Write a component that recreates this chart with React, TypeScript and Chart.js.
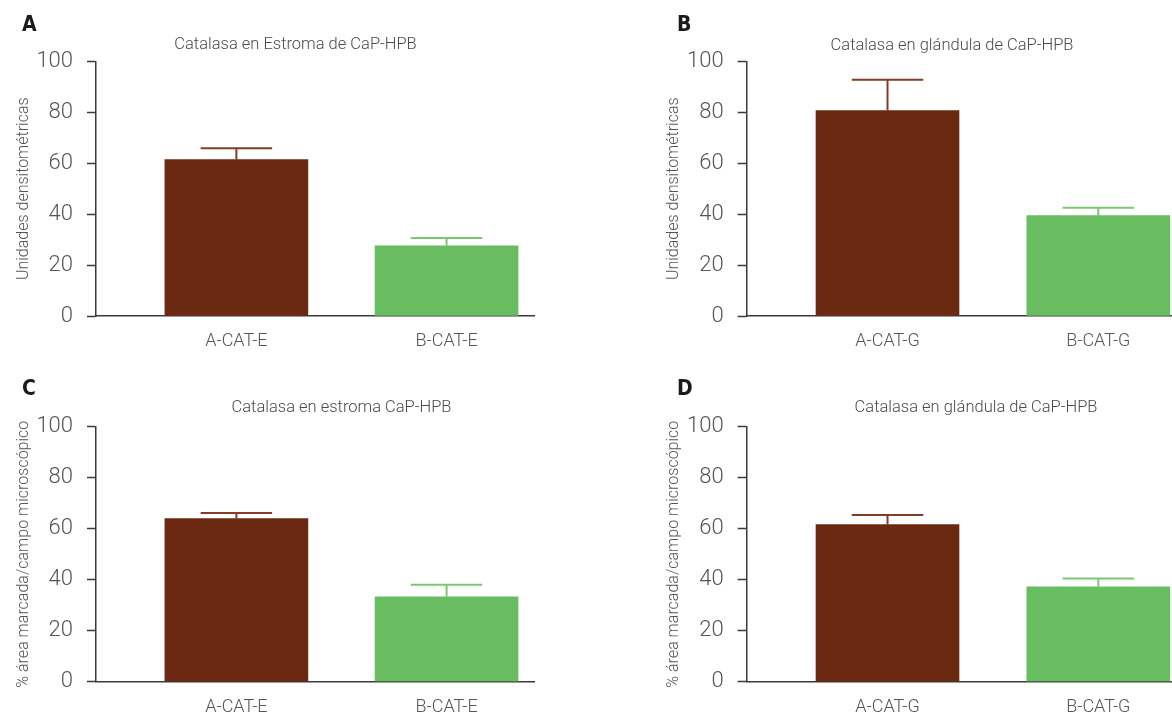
import React, { useEffect, useRef } from 'react';
import { Chart, registerables } from 'chart.js';

Chart.register(...registerables);

// ---- Data ----
const categoriesE = ['A-CAT-E', 'B-CAT-E'];
const categoriesG = ['A-CAT-G', 'B-CAT-G'];

const valuesA = [61.4, 27.6];
const errorsA = [4.5, 3.0];

const valuesB = [80.7, 39.4];
const errorsB = [12.1, 3.1];

const valuesC = [64.0, 33.3];
const errorsC = [2.2, 4.7];

const valuesD = [61.6, 37.2];
const errorsD = [3.8, 3.3];

const yTickValues = [0, 20, 40, 60, 80, 100];

const titles = [
  'Catalasa en Estroma de CaP-HPB',
  'Catalasa en glándula de CaP-HPB',
  'Catalasa en estroma CaP-HPB',
  'Catalasa en glándula de CaP-HPB',
];
const yTitles = [
  'Unidades densitométricas',
  'Unidades densitométricas',
  '% área marcada/campo microscópico',
  '% área marcada/campo microscópico',
];
const panelLetters = ['A', 'B', 'C', 'D'];

// ---- Styles ----
const barColors = ['#6b2912', '#67bd5f'];
const errorColors = ['#853b25', '#7bc871'];
const FONT = "Roboto, 'DejaVu Sans Condensed', sans-serif";
const AXIS_COLOR = '#3a3a3a';

const errorBarPlugin = {
  id: 'errorBars',
  afterDatasetsDraw(chart: any) {
    const ctx = chart.ctx;
    const yScale = chart.scales.y;
    chart.data.datasets.forEach((ds: any, di: number) => {
      const meta = chart.getDatasetMeta(di);
      const errs: number[] = ds.errors || [];
      meta.data.forEach((bar: any, i: number) => {
        const v = ds.data[i].y;
        const e = errs[i];
        if (e == null) return;
        const yTop = yScale.getPixelForValue(v + e);
        const yBar = yScale.getPixelForValue(v);
        const half = bar.width / 4;
        ctx.save();
        ctx.strokeStyle = ds.errorColors[i];
        ctx.lineWidth = 2;
        ctx.beginPath();
        ctx.moveTo(bar.x, yBar);
        ctx.lineTo(bar.x, yTop);
        ctx.moveTo(bar.x - half, yTop);
        ctx.lineTo(bar.x + half, yTop);
        ctx.stroke();
        ctx.restore();
      });
    });
  },
};

type PanelProps = {
  left: number;
  top: number;
  width: number;
  height: number;
  yWidth: number;
  xHeight: number;
  rightSpace: number;
  titlePad: { top: number; bottom: number };
  title: string;
  yTitle: string;
  categories: string[];
  values: number[];
  errors: number[];
};

function Panel(p: PanelProps) {
  const ref = useRef<HTMLCanvasElement | null>(null);
  useEffect(() => {
    if (!ref.current) return;
    const chart = new Chart(ref.current, {
      type: 'bar',
      data: {
        datasets: [
          {
            data: p.values.map((v, i) => ({ x: i + 1, y: v })),
            backgroundColor: barColors,
            borderWidth: 0,
            barThickness: 143,
            errors: p.errors,
            errorColors: errorColors,
          } as any,
        ],
      },
      options: {
        animation: false,
        responsive: false,
        devicePixelRatio: 1,
        layout: { padding: 0 },
        plugins: {
          legend: { display: false },
          tooltip: { enabled: false },
          title: {
            display: true,
            text: p.title,
            color: '#4a4a4a',
            font: { family: FONT, size: 16.5, weight: '300' as any },
            padding: p.titlePad,
          },
        },
        scales: {
          x: {
            type: 'linear',
            offset: false,
            min: 0.332,
            max: 2.416,
            afterBuildTicks: (s: any) => {
              s.ticks = p.categories.map((_, i) => ({ value: i + 1 }));
            },
            afterFit: (s: any) => {
              s.height = p.xHeight;
            },
            grid: { display: true, drawOnChartArea: false, drawTicks: false, offset: false },
            border: { display: true, color: AXIS_COLOR, width: 1.5 },
            ticks: {
              autoSkip: false,
              maxRotation: 0,
              padding: 15,
              color: '#555',
              font: { family: FONT, size: 18, weight: '300' as any },
              callback: (_v: any, idx: number) => p.categories[idx],
            },
          },
          y: {
            min: 0,
            max: 100,
            afterBuildTicks: (s: any) => {
              s.ticks = yTickValues.map((v) => ({ value: v }));
            },
            afterFit: (s: any) => {
              s.width = p.yWidth;
            },
            grid: {
              display: true,
              drawOnChartArea: false,
              drawTicks: true,
              tickLength: 9,
              tickColor: AXIS_COLOR,
              tickWidth: 1.5,
            },
            border: { display: true, color: AXIS_COLOR, width: 1.5 },
            ticks: {
              padding: 14,
              color: '#555',
              font: { family: FONT, size: 22, weight: '300' as any },
            },
            title: {
              display: true,
              text: p.yTitle,
              color: '#555',
              font: { family: FONT, size: 16, weight: '300' as any },
              padding: { top: 14, bottom: 0 },
            },
          },
          // empty right-hand space so the title centres like the original
          yRight: {
            type: 'linear',
            position: 'right',
            display: true,
            min: 0,
            max: 100,
            grid: { display: false, drawTicks: false },
            border: { display: false },
            ticks: { display: false },
            afterFit: (s: any) => {
              s.width = p.rightSpace;
            },
          },
        },
      },
      plugins: [errorBarPlugin],
    } as any);
    return () => chart.destroy();
  }, []);
  return (
    <div style={{ position: 'absolute', left: p.left, top: p.top, width: p.width, height: p.height }}>
      <canvas ref={ref} width={p.width} height={p.height} style={{ display: 'block' }} />
    </div>
  );
}

const letterStyle = (left: number, top: number): React.CSSProperties => ({
  position: 'absolute',
  left,
  top,
  fontFamily: "'DejaVu Sans Condensed', Roboto, sans-serif",
  fontWeight: 'bold',
  fontSize: 21,
  lineHeight: '21px',
  color: '#1a1a1a',
});

export default function App() {
  return (
    <div
      style={{
        position: 'absolute',
        left: 0,
        top: 0,
        width: 1172,
        height: 720,
        overflow: 'hidden',
        background: '#fff',
      }}
    >
      <Panel
        left={0}
        top={0}
        width={591}
        height={360}
        yWidth={96}
        xHeight={44}
        rightSpace={57}
        titlePad={{ top: 34.8, bottom: 6.8 }}
        title={titles[0]}
        yTitle={yTitles[0]}
        categories={categoriesE}
        values={valuesA}
        errors={errorsA}
      />
      <Panel
        left={650}
        top={0}
        width={604}
        height={360}
        yWidth={96.7}
        xHeight={44}
        rightSpace={68}
        titlePad={{ top: 35.8, bottom: 5.8 }}
        title={titles[1]}
        yTitle={yTitles[1]}
        categories={categoriesG}
        values={valuesB}
        errors={errorsB}
      />
      <Panel
        left={0}
        top={370}
        width={683}
        height={350}
        yWidth={96}
        xHeight={38.3}
        rightSpace={149}
        titlePad={{ top: 27.8, bottom: 9.1 }}
        title={titles[2]}
        yTitle={yTitles[2]}
        categories={categoriesE}
        values={valuesC}
        errors={errorsC}
      />
      <Panel
        left={650}
        top={370}
        width={652}
        height={350}
        yWidth={96.7}
        xHeight={38.3}
        rightSpace={116}
        titlePad={{ top: 27.8, bottom: 9.1 }}
        title={titles[3]}
        yTitle={yTitles[3]}
        categories={categoriesG}
        values={valuesD}
        errors={errorsD}
      />
      <div style={letterStyle(22, 14)}>{panelLetters[0]}</div>
      <div style={letterStyle(677, 14)}>{panelLetters[1]}</div>
      <div style={letterStyle(22, 378)}>{panelLetters[2]}</div>
      <div style={letterStyle(677, 378)}>{panelLetters[3]}</div>
    </div>
  );
}
